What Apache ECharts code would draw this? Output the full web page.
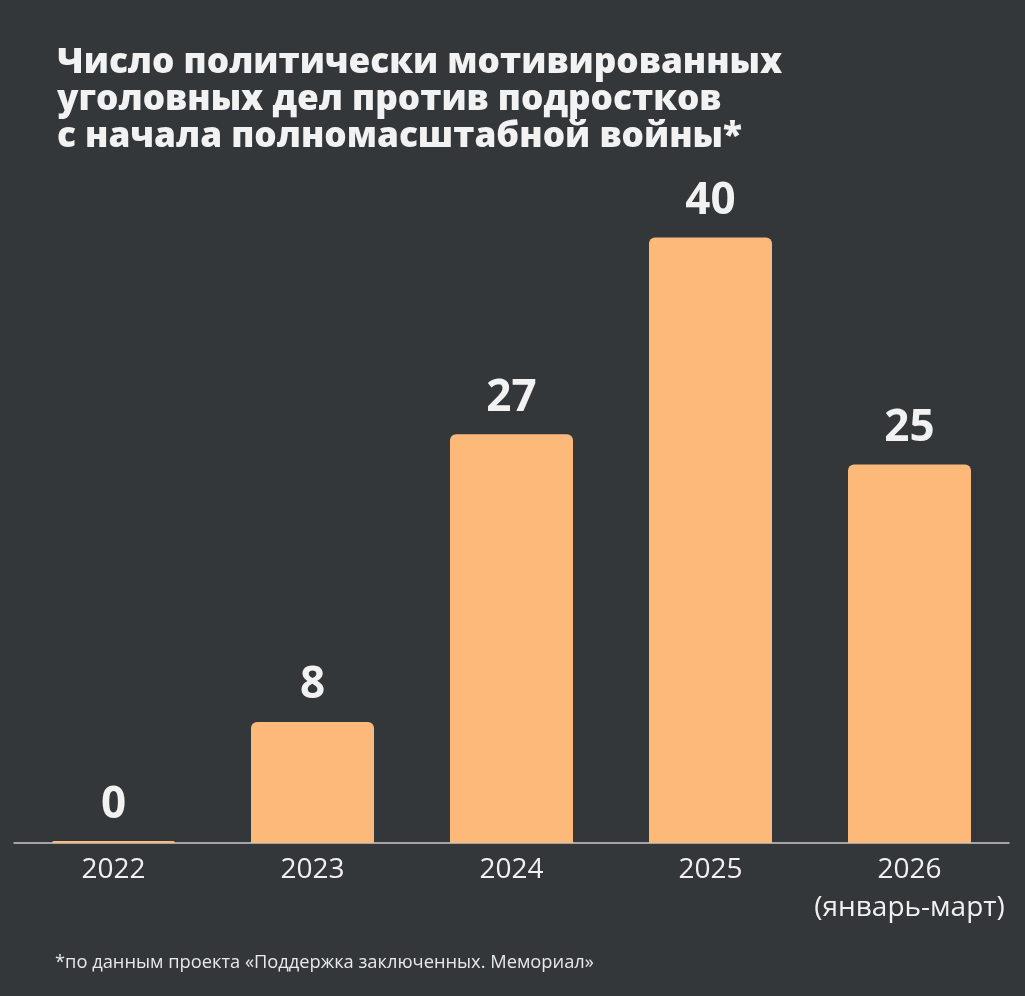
<!DOCTYPE html>
<html>
<head>
<meta charset="utf-8">
<script src="https://cdn.jsdelivr.net/npm/echarts@6/dist/echarts.min.js"></script>
<style>
  html, body { margin: 0; padding: 0; background: #33373a; }
  #chart { width: 1025px; height: 996px; }
</style>
</head>
<body>
<div id="chart"></div>
<script>
  // данные
  const years = ['2022', '2023', '2024', '2025', '2026\n(январь-март)']
  const cases = [0, 8, 27, 40, 25]

  const chart = echarts.init(document.getElementById('chart'))
  const option = {
    backgroundColor: '#33373a',
    textStyle: { fontFamily: 'Open Sans' },
    title: [{
      text: 'Число политически мотивированных\nуголовных дел против подростков\nс начала полномасштабной войны*',
      left: 57,
      top: 44,
      padding: 0,
      textStyle: {
        color: '#f2f2f2',
        fontSize: 35.2,
        fontWeight: 800,
        lineHeight: 37,
        fontFamily: 'Open Sans'
      }
    }, {
      text: '*по данным проекта «Поддержка заключенных. Мемориал»',
      left: 55,
      top: 954,
      padding: 0,
      textStyle: {
        color: '#e8e8e8',
        fontSize: 18.3,
        fontWeight: 'normal',
        lineHeight: 18,
        fontFamily: 'Open Sans'
      }
    }],
    grid: {
      left: 14,
      right: 16,
      top: 86,
      bottom: 153
    },
    xAxis: {
      type: 'category',
      data: years,
      axisLine: { lineStyle: { color: '#c9c9c9', width: 1.5 } },
      axisTick: { show: false },
      axisLabel: {
        color: '#f0f0f0',
        fontSize: 28,
        lineHeight: 38,
        margin: 8,
        interval: 0
      }
    },
    yAxis: {
      type: 'value',
      min: 0,
      max: 50,
      show: false,
      splitLine: { show: false }
    },
    series: [{
      type: 'bar',
      data: cases,
      barWidth: 123,
      barMinHeight: 2,
      itemStyle: {
        color: '#fdb97a',
        borderRadius: [6, 6, 0, 0]
      },
      label: {
        show: true,
        position: 'top',
        distance: 14,
        color: '#f2f2f2',
        fontSize: 44,
        fontWeight: 'bold',
        lineHeight: 44
      }
    }]
  }
  chart.setOption(option)
</script>
</body>
</html>
